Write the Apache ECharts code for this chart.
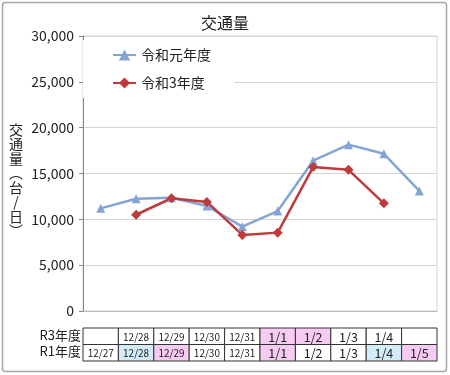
<!DOCTYPE html>
<html><head><meta charset="utf-8">
<script src="https://cdn.jsdelivr.net/npm/echarts@6/dist/echarts.min.js"></script>
<style>html,body{margin:0;padding:0;background:#fff}#c{width:450px;height:375px}</style>
</head><body><div id="c"></div>
<script>
const categories = ['d1','d2','d3','d4','d5','d6','d7','d8','d9','d10'];
const r1Values = [11200, 12250, 12350, 11450, 9200, 10900, 16400, 18150, 17150, 13100];
const r3Values = [null, 10500, 12300, 11900, 8300, 8550, 15700, 15400, 11750, null];
const r3Dates = ['', '12/28', '12/29', '12/30', '12/31', '1/1', '1/2', '1/3', '1/4', ''];
const r1Dates = ['12/27', '12/28', '12/29', '12/30', '12/31', '1/1', '1/2', '1/3', '1/4', '1/5'];
const r3Fill = ['w','w','w','w','w','p','p','w','w','w'];
const r1Fill = ['w','b','p','w','w','p','w','w','b','p'];
const rowLabels = ['R3年度', 'R1年度'];
const seriesNames = ['令和元年度', '令和3年度'];

const FONT = '"Noto Sans CJK JP", sans-serif';
const fillMap = { w: '#ffffff', p: '#f8ccf2', b: '#d4ecf7' };

const chart = echarts.init(document.getElementById('c'));
chart.setOption({
  animation: false,
  textStyle: { fontFamily: FONT },
  title: { text: '交通量', left: 'center', top: 10, textStyle: { fontSize: 16, fontWeight: 'normal', color: '#222', fontFamily: FONT } },
  grid: { left: 83, right: 13, top: 36, bottom: 64, show: true, borderColor: '#d4d4d4', borderWidth: 1, backgroundColor: 'transparent' },
  legend: {
    orient: 'vertical', left: 83, top: 40, padding: [8, 23, 8, 29], itemGap: 14,
    itemWidth: 23, itemHeight: 14, backgroundColor: '#fff',
    textStyle: { fontSize: 14, color: '#222', fontFamily: FONT },
    data: seriesNames
  },
  xAxis: {
    type: 'category', data: categories, boundaryGap: true,
    axisLine: { show: true, lineStyle: { color: '#bbb' } },
    axisTick: { show: false }, axisLabel: { show: false }
  },
  yAxis: {
    type: 'value', min: 0, max: 30000, interval: 5000,
    axisLine: { show: true, lineStyle: { color: '#888' } },
    axisTick: { show: true, length: 4, lineStyle: { color: '#888' } },
    splitLine: { lineStyle: { color: '#d4d4d4' } },
    axisLabel: { fontSize: 14, color: '#222', margin: 9, fontFamily: FONT,
      formatter: v => v.toLocaleString('en-US') }
  },
  series: [
    { name: seriesNames[0], type: 'line', data: r1Values, symbol: 'triangle', symbolSize: 9,
      itemStyle: { color: '#84a5d4' }, lineStyle: { width: 2.5, color: '#84a5d4' } },
    { name: seriesNames[1], type: 'line', data: r3Values, symbol: 'diamond', symbolSize: 10,
      itemStyle: { color: '#bf3b3b' }, lineStyle: { width: 2.5, color: '#bf3b3b' } }
  ]
});

// Build the bottom date table from the axis' own positions
const c0 = chart.convertToPixel({ xAxisIndex: 0 }, 0);
const c1 = chart.convertToPixel({ xAxisIndex: 0 }, 1);
const bw = c1 - c0;
const rowTop = 328, rowH = 16.5;
const g = [];
[r3Dates, r1Dates].forEach((row, r) => {
  const fills = r === 0 ? r3Fill : r1Fill;
  const y = rowTop + r * rowH;
  g.push({ type: 'text', right: 450 - 81, top: y + 0.5, style: { text: rowLabels[r], font: '13px ' + FONT, fill: '#222', textAlign: 'right' } });
  row.forEach((d, i) => {
    const cx = chart.convertToPixel({ xAxisIndex: 0 }, i);
    g.push({ type: 'rect', shape: { x: cx - bw / 2, y: y, width: bw, height: rowH },
      style: { fill: fillMap[fills[i]], stroke: '#333', lineWidth: 1 }, z: 10 });
    if (d) {
      const small = d.indexOf('12/') === 0;
      g.push({ type: 'text', x: cx, y: y + rowH / 2 + 0.5, z: 11,
        style: { text: d, font: (small ? '10px ' : '12.5px ') + FONT, fill: '#222', align: 'center', verticalAlign: 'middle', letterSpacing: small ? 0.5 : 1 } });
    }
  });
});
g.push({ type: 'text', x: 16, y: 122, style: { text: '交\n通\n量\n︵\n台\n/\n日\n︶', font: '14px ' + FONT, fill: '#222', align: 'center', lineHeight: 14.5 } });
g.push({ type: 'rect', shape: { x: 2.5, y: 2.5, width: 444, height: 369, r: 3 }, style: { fill: 'none', stroke: '#a6a6a6', lineWidth: 1.5 }, z: 20 });
chart.setOption({ graphic: g });
</script>
</body></html>
